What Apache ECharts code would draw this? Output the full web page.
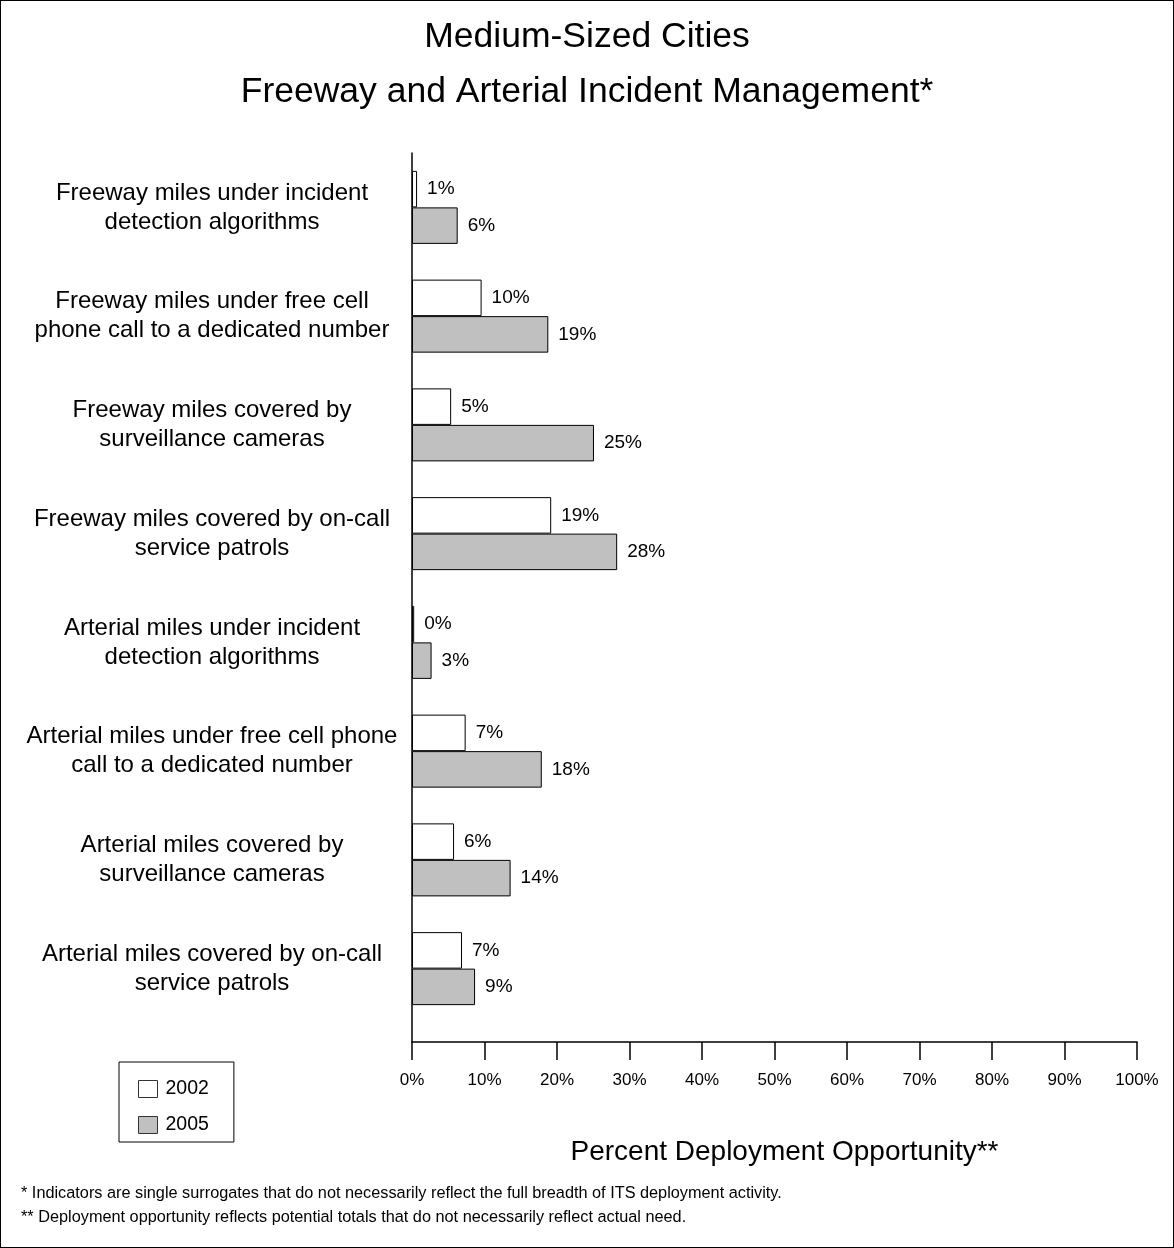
<!DOCTYPE html>
<html>
<head>
<meta charset="utf-8">
<script src="https://cdn.jsdelivr.net/npm/echarts@6/dist/echarts.min.js"></script>
<style>
  html, body { margin: 0; padding: 0; background: #fff; }
  #chart { width: 1174px; height: 1248px; box-sizing: border-box; border: 1px solid #000; }
</style>
</head>
<body>
<div id="chart"></div>
<script>
const categories = [
    'Freeway miles under incident\ndetection algorithms',
    'Freeway miles under free cell\nphone call to a dedicated number',
    'Freeway miles covered by\nsurveillance cameras',
    'Freeway miles covered by on-call\nservice patrols',
    'Arterial miles under incident\ndetection algorithms',
    'Arterial miles under free cell phone\ncall to a dedicated number',
    'Arterial miles covered by\nsurveillance cameras',
    'Arterial miles covered by on-call\nservice patrols'
];
const values2002 = [0.7, 9.6, 5.4, 19.2, 0.3, 7.4, 5.8, 6.9];
const values2005 = [6.3, 18.8, 25.1, 28.3, 2.7, 17.9, 13.6, 8.7];
const seriesNames = ['2002', '2005'];
const titleLines = ['Medium-Sized Cities', 'Freeway and Arterial Incident Management*'];
const axisTitle = 'Percent Deployment Opportunity**';
const footnotes = [
    '* Indicators are single surrogates that do not necessarily reflect the full breadth of ITS deployment activity.',
    '** Deployment opportunity reflects potential totals that do not necessarily reflect actual need.'
];

const chart = echarts.init(document.getElementById('chart'));
const font = 'Liberation Sans, Arial, sans-serif';

const barLabel = {
    show: true,
    position: 'right',
    distance: 10,
    fontFamily: font,
    fontSize: 19,
    color: '#000',
    formatter: p => Math.round(p.value) + '%'
};

// grid 0 carries the visible axes (frame), grid 1 carries the bars and category labels;
// the bars stop a little above the x axis, like in the original
const option = {
    animation: false,
    textStyle: { fontFamily: font },
    title: {
        text: titleLines.join('\n'),
        left: 'center',
        top: 4,
        textStyle: { fontFamily: font, fontSize: 35.5, fontWeight: 'normal', color: '#000', lineHeight: 55 }
    },
    legend: {
        orient: 'vertical',
        left: 118,
        top: 1061,
        padding: [17, 25, 7, 19],
        borderColor: '#000',
        borderWidth: 1,
        itemWidth: 19,
        itemHeight: 17,
        itemGap: 16,
        icon: 'rect',
        itemStyle: { borderWidth: 1, borderColor: '#333' },
        textStyle: { fontFamily: font, fontSize: 19.5, color: '#000', padding: [0, 0, 0, 3] },
        data: seriesNames
    },
    grid: [
        { left: 411, right: 36, top: 152, bottom: 205 },
        { left: 411, right: 36, top: 152, bottom: 224 }
    ],
    xAxis: [
        {
            gridIndex: 0,
            type: 'value',
            min: 0,
            max: 100,
            interval: 10,
            name: axisTitle,
            nameLocation: 'middle',
            nameGap: 96,
            nameTextStyle: { fontFamily: font, fontSize: 28, color: '#000', padding: [0, 0, 0, 20] },
            axisLine: { show: true, lineStyle: { color: '#000', width: 1.5 } },
            axisTick: { show: true, length: 18, lineStyle: { color: '#000', width: 1.5 } },
            axisLabel: { margin: 30, fontFamily: font, fontSize: 17, color: '#000', formatter: '{value}%' },
            splitLine: { show: false }
        },
        {
            gridIndex: 1,
            type: 'value',
            min: 0,
            max: 100,
            show: false
        }
    ],
    yAxis: [
        {
            gridIndex: 0,
            type: 'value',
            axisLine: { show: true, lineStyle: { color: '#000', width: 1.5 } },
            axisTick: { show: false },
            axisLabel: { show: false },
            splitLine: { show: false }
        },
        {
            gridIndex: 1,
            type: 'category',
            inverse: true,
            data: categories,
            axisLine: { show: false },
            axisTick: { show: false },
            axisLabel: {
                interval: 0,
                align: 'center',
                margin: 200,
                fontFamily: font,
                fontSize: 24,
                lineHeight: 29,
                color: '#000'
            }
        }
    ],
    series: [
        {
            name: seriesNames[0],
            type: 'bar',
            xAxisIndex: 1,
            yAxisIndex: 1,
            data: values2002,
            barWidth: 36.5,
            barGap: '0%',
            itemStyle: { color: '#fff', borderColor: '#000', borderWidth: 1 },
            label: barLabel
        },
        {
            name: seriesNames[1],
            type: 'bar',
            xAxisIndex: 1,
            yAxisIndex: 1,
            data: values2005,
            barWidth: 36.5,
            barGap: '0%',
            itemStyle: { color: '#c0c0c0', borderColor: '#000', borderWidth: 1 },
            label: barLabel
        }
    ],
    graphic: footnotes.map((t, i) => ({
        type: 'text',
        left: 20,
        top: 1185 + i * 24,
        style: { text: t, fontFamily: font, fontSize: 16.3, fill: '#000' }
    }))
};

chart.setOption(option);
</script>
</body>
</html>
